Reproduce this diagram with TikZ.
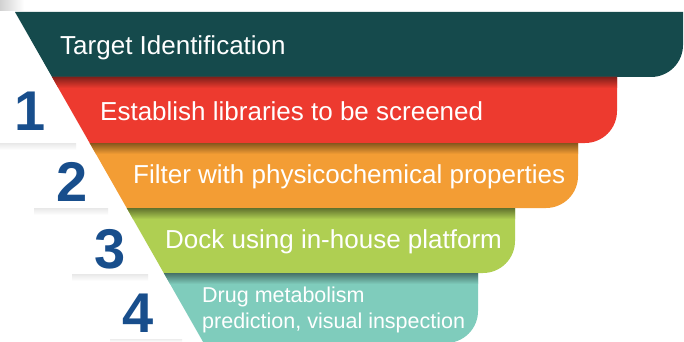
\documentclass[tikz,border=0pt]{standalone}
\usepackage{fontspec}
\setmainfont{Liberation Sans}
\usetikzlibrary{calc}
\definecolor{tealdark}{RGB}{21,74,76}
\definecolor{redband}{RGB}{237,58,47}
\definecolor{orangeband}{RGB}{243,157,52}
\definecolor{greenband}{RGB}{175,207,82}
\definecolor{tealband}{RGB}{127,204,188}
\definecolor{numblue}{RGB}{24,78,140}
\def\stripe[#1](#2:#3:#4){\fill[#1] ({15+0.57*(#2-12)}, #2) -- (#4, #2) -- (#4, #3-32) arc (0:90:32) -- ({15+0.57*(#3-12)}, #3) -- cycle;}
\def\stripeshadow[#1](#2:#3){\shade[top color=#1!55!black, bottom color=#1] ({15+0.57*(#2-12)}, #2) -- (#3, #2) -- (#3, #2+11) -- ({15+0.57*(#2-1)}, #2+11) -- cycle;}
\tikzset{
	steptext/.style={anchor=base west, inner sep=0, text=white, font=\fontsize{26}{26}\selectfont},
	stepnum/.style={anchor=base, inner sep=0, text depth=0pt, text=numblue, font=\bfseries\fontsize{56}{56}\selectfont}
}

\begin{document}
\begin{tikzpicture}[x=1pt, y=-1pt]
			%%%%% START %%%%%
			
			\useasboundingbox (0, 0) rectangle (684, 342);
			\clip (0, 0) rectangle (684, 342);
			\fill[white] (0, 0) rectangle (684, 342);
			
			% paper shadows in the white part
			\shade[left color=black!18, right color=white] (0, 0) rectangle (24, 11);
			\shade[top color=black!9, bottom color=white] (0, 143) rectangle (76, 150);
			\shade[top color=black!9, bottom color=white] (34, 208) rectangle (108, 215);
			\shade[top color=black!9, bottom color=white] (72, 274) rectangle (148, 281);
			\shade[top color=black!7, bottom color=white] (110, 339) rectangle (182, 342);
			
			% bands, top to bottom
			\stripe[tealdark](12:77:683);
			\stripe[redband](77:143:617);
			\stripeshadow[redband](77:617);
			\stripe[orangeband](143:208:578);
			\stripeshadow[orangeband](143:578);
			\stripe[greenband](208:273:515);
			\stripeshadow[greenband](208:515);
			\stripe[tealband](273:343:478);
			\stripeshadow[tealband](273:478);
			
			\node[steptext] (target) at (60, 55) {Target Identification};
			\node[steptext] (library) at (100, 121) {Establish libraries to be screened};
			\node[steptext] (filter) at (133, 183) {Filter with physicochemical properties};
			\node[steptext] (dock) at (165, 248) {Dock using in-house platform};
			\node[steptext, font=\fontsize{21.5}{26}\selectfont, align=left] (metab) at (202, 328) {Drug metabolism\\prediction, visual inspection};
			
			\node[stepnum] (one) at (30, 130) {1};
			\node[stepnum] (two) at (72, 201) {2};
			\node[stepnum] (three) at (110, 268) {3};
			\node[stepnum] (four) at (138, 332) {4};
			
			%%%%% END %%%%%
\end{tikzpicture}
\end{document}
